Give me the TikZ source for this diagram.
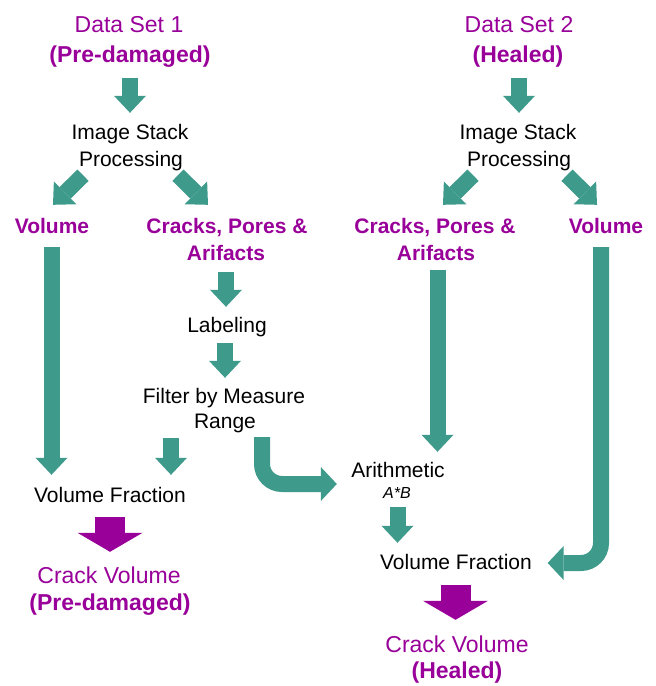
\documentclass[tikz,border=0pt]{standalone}
\usepackage{fontspec}
\setmainfont{Liberation Sans}
\usetikzlibrary{arrows.meta,calc}
\definecolor{tealc}{RGB}{62,155,140}
\definecolor{purp}{RGB}{153,0,153}
\tikzset{
  txt/.style={anchor=base,inner sep=0pt,text height=15pt,text depth=4.5pt,font=\fontsize{21}{25}\selectfont},
  steptxt/.style={txt,text=black},
  lbl/.style={txt,text=purp,font=\fontsize{21}{25}\selectfont\bfseries},
  ttl/.style={anchor=base,inner sep=0pt,text height=17pt,text depth=5pt,text=purp,font=\fontsize{23}{27}\selectfont},
  ttlb/.style={ttl,font=\fontsize{23}{27}\selectfont\bfseries},
  small/.style={anchor=base,inner sep=0pt,text height=12pt,text depth=3pt,font=\fontsize{16}{18}\selectfont\itshape},
  tarr/.style={draw=tealc,line width=16pt,-{Triangle[width=32pt,length=17pt,line width=0pt]}},
  tarrb/.style={draw=tealc,line width=16pt,rounded corners=20pt,-{Triangle[width=34pt,length=16pt,line width=0pt]}},
  parr/.style={draw=purp,line width=30pt,-{Triangle[width=65pt,length=19pt,line width=0pt]}}
}
\begin{document}
\begin{tikzpicture}[x=1pt,y=-1pt]
\fill[white] (0,0) rectangle (656,686);
\useasboundingbox (0,0) rectangle (656,686);
% titles
\node[ttl]  (ds1a) at (129,32) {Data Set 1};
\node[ttlb] (ds1b) at (130,62) {(Pre-damaged)};
\node[ttl]  (ds2a) at (519,32) {Data Set 2};
\node[ttlb] (ds2b) at (518,62) {(Healed)};
% image stack processing
\node[steptxt] (isp1a) at (130,139) {Image Stack};
\node[steptxt] (isp1b) at (131,166) {Processing};
\node[steptxt] (isp2a) at (518,139) {Image Stack};
\node[steptxt] (isp2b) at (519,166) {Processing};
% labels
\node[lbl] (vol1) at (52,233) {Volume};
\node[lbl] (cpa1a) at (227,233) {Cracks, Pores \&};
\node[lbl] (cpa1b) at (226,260) {Arifacts};
\node[lbl] (cpa2a) at (435,233) {Cracks, Pores \&};
\node[lbl] (cpa2b) at (436,260) {Arifacts};
\node[lbl] (vol2) at (606,233) {Volume};
% steps
\node[steptxt] (lab) at (227,332) {Labeling};
\node[steptxt] (flt1) at (224,403) {Filter by Measure};
\node[steptxt] (flt2) at (225,428) {Range};
\node[steptxt] (vf1) at (110,502) {Volume Fraction};
\node[steptxt] (ari) at (398,477) {Arithmetic};
\node[small] (ab) at (397,498) {A*B};
\node[steptxt] (vf2) at (456,569) {Volume Fraction};
% results
\node[ttl]  (cv1a) at (109,583) {Crack Volume};
\node[ttlb] (cv1b) at (110,610) {(Pre-damaged)};
\node[ttl]  (cv2a) at (457,652) {Crack Volume};
\node[ttlb] (cv2b) at (457,678) {(Healed)};
% arrows
\draw[tarr] ($(ds1b.south)+(0,11)$) -- ($(isp1a.north)+(0,-11)$);
\draw[tarr] ($(ds2b.south)+(1,11)$) -- ($(isp2a.north)+(1,-11)$);
\draw[tarr] ($(isp1b.south)+(-48,4.5)$) -- ($(vol1.north)+(1,-13)$);
\draw[tarr] ($(isp1b.south)+(47,4.5)$) -- ($(cpa1a.north)+(-19,-13)$);
\draw[tarr] ($(isp2b.south)+(-46,4.5)$) -- ($(cpa2a.north)+(8,-13)$);
\draw[tarr] ($(isp2b.south)+(48,4.5)$) -- ($(vol2.north)+(-9,-13)$);
\draw[tarr] ($(vol1.south)+(-0.5,9.5)$) -- ($(vf1.north)+(-58.5,-12)$);
\draw[tarr] ($(cpa1b.south)+(0,7.5)$) -- ($(lab.north)+(-1,-10)$);
\draw[tarr] ($(lab.south)+(-2,6.5)$) -- ($(flt1.north)+(1,-10)$);
\draw[tarr] ($(flt2.south)+(-54,5.5)$) -- ($(vf1.north)+(61,-12)$);
\coordinate (b1s) at ($(flt2.south)+(37,4.5)$);
\coordinate (b1e) at ($(ari.west)+(-14.3,12.25)$);
\draw[tarrb] (b1s) |- (b1e);
\draw[tarr] ($(cpa2b.south)+(1.5,5.5)$) -- ($(ari.north)+(39.5,-10)$);
\draw[tarr] ($(ab.south)+(0.5,6)$) -- ($(vf2.north)+(-58.5,-11)$);
\coordinate (b2s) at ($(vol2.south)+(-5,9.5)$);
\coordinate (b2e) at ($(vf2.east)+(15.6,-0.75)$);
\draw[tarrb] (b2s) |- (b2e);
\draw[parr] ($(vf1.south)+(0,10.5)$) -- ($(cv1a.north)+(1,-14)$);
\draw[parr] ($(vf2.south)+(-0.5,11.5)$) -- ($(cv2a.north)+(-1.5,-15)$);
\end{tikzpicture}
\end{document}
